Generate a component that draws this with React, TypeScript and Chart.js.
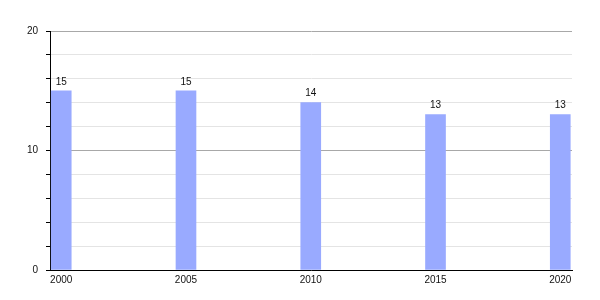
import React, { useEffect, useRef } from "react";
import { Chart, registerables } from "chart.js";

Chart.register(...registerables);

const years = [2000, 2005, 2010, 2015, 2020];
const values = [15, 15, 14, 13, 13];
const yLabeled = [0, 10, 20];

const FONT = "'Liberation Sans', Arial, sans-serif";

const barLabels = {
  id: "barLabels",
  afterDatasetsDraw(chart: any) {
    const ctx = chart.ctx;
    const meta = chart.getDatasetMeta(0);
    ctx.save();
    ctx.font = `10px ${FONT}`;
    ctx.fillStyle = "#111";
    ctx.textAlign = "center";
    ctx.textBaseline = "bottom";
    meta.data.forEach((el: any, i: number) => {
      ctx.fillText(String(values[i]), el.x, el.y - 4);
    });
    ctx.restore();
  },
};

export default function App() {
  const ref = useRef<HTMLCanvasElement | null>(null);
  useEffect(() => {
    if (!ref.current) return;
    const chart = new Chart(ref.current, {
      type: "bar",
      data: {
        datasets: [
          {
            data: years.map((y, i) => ({ x: y, y: values[i] })),
            backgroundColor: "#99aaff",
            barThickness: 20,
          },
        ],
      },
      options: {
        animation: false,
        responsive: false,
        maintainAspectRatio: false,
        layout: { padding: { left: 0, right: 28, top: 31, bottom: 0 } },
        plugins: { legend: { display: false }, tooltip: { enabled: false } },
        scales: {
          x: {
            type: "linear",
            offset: false,
            min: 1999.55,
            max: 2020.47,
            grid: { display: false, drawTicks: false, offset: false },
            border: { display: true, color: "#000", width: 1 },
            afterBuildTicks: (scale: any) => {
              scale.ticks = years.map((v) => ({ value: v }));
            },
            afterFit: (scale: any) => {
              scale.height = 30;
            },
            ticks: {
              autoSkip: false,
              maxRotation: 0,
              padding: 4,
              color: "#111",
              font: { family: FONT, size: 10 },
              callback: (v: any) => String(v),
            },
          },
          y: {
            min: 0,
            max: 20,
            afterFit: (scale: any) => {
              scale.width = 50;
            },
            border: { display: true, color: "#000", width: 1 },
            grid: {
              color: (c: any) =>
                c.tick && yLabeled.includes(c.tick.value) ? "#a8a8a8" : "#e4e4e4",
              tickColor: "#000",
              tickLength: 4,
            },
            ticks: {
              stepSize: 2,
              autoSkip: false,
              padding: 8,
              color: "#111",
              font: { family: FONT, size: 10 },
              callback: (v: any) => (yLabeled.includes(v) ? String(v) : ""),
            },
          },
        },
      },
      plugins: [barLabels],
    });
    return () => chart.destroy();
  }, []);
  return (
    <div style={{ position: "fixed", left: 0, top: 0, width: 600, height: 300, background: "#fff" }}>
      <canvas ref={ref} width={600} height={300} style={{ width: 600, height: 300 }} />
    </div>
  );
}
